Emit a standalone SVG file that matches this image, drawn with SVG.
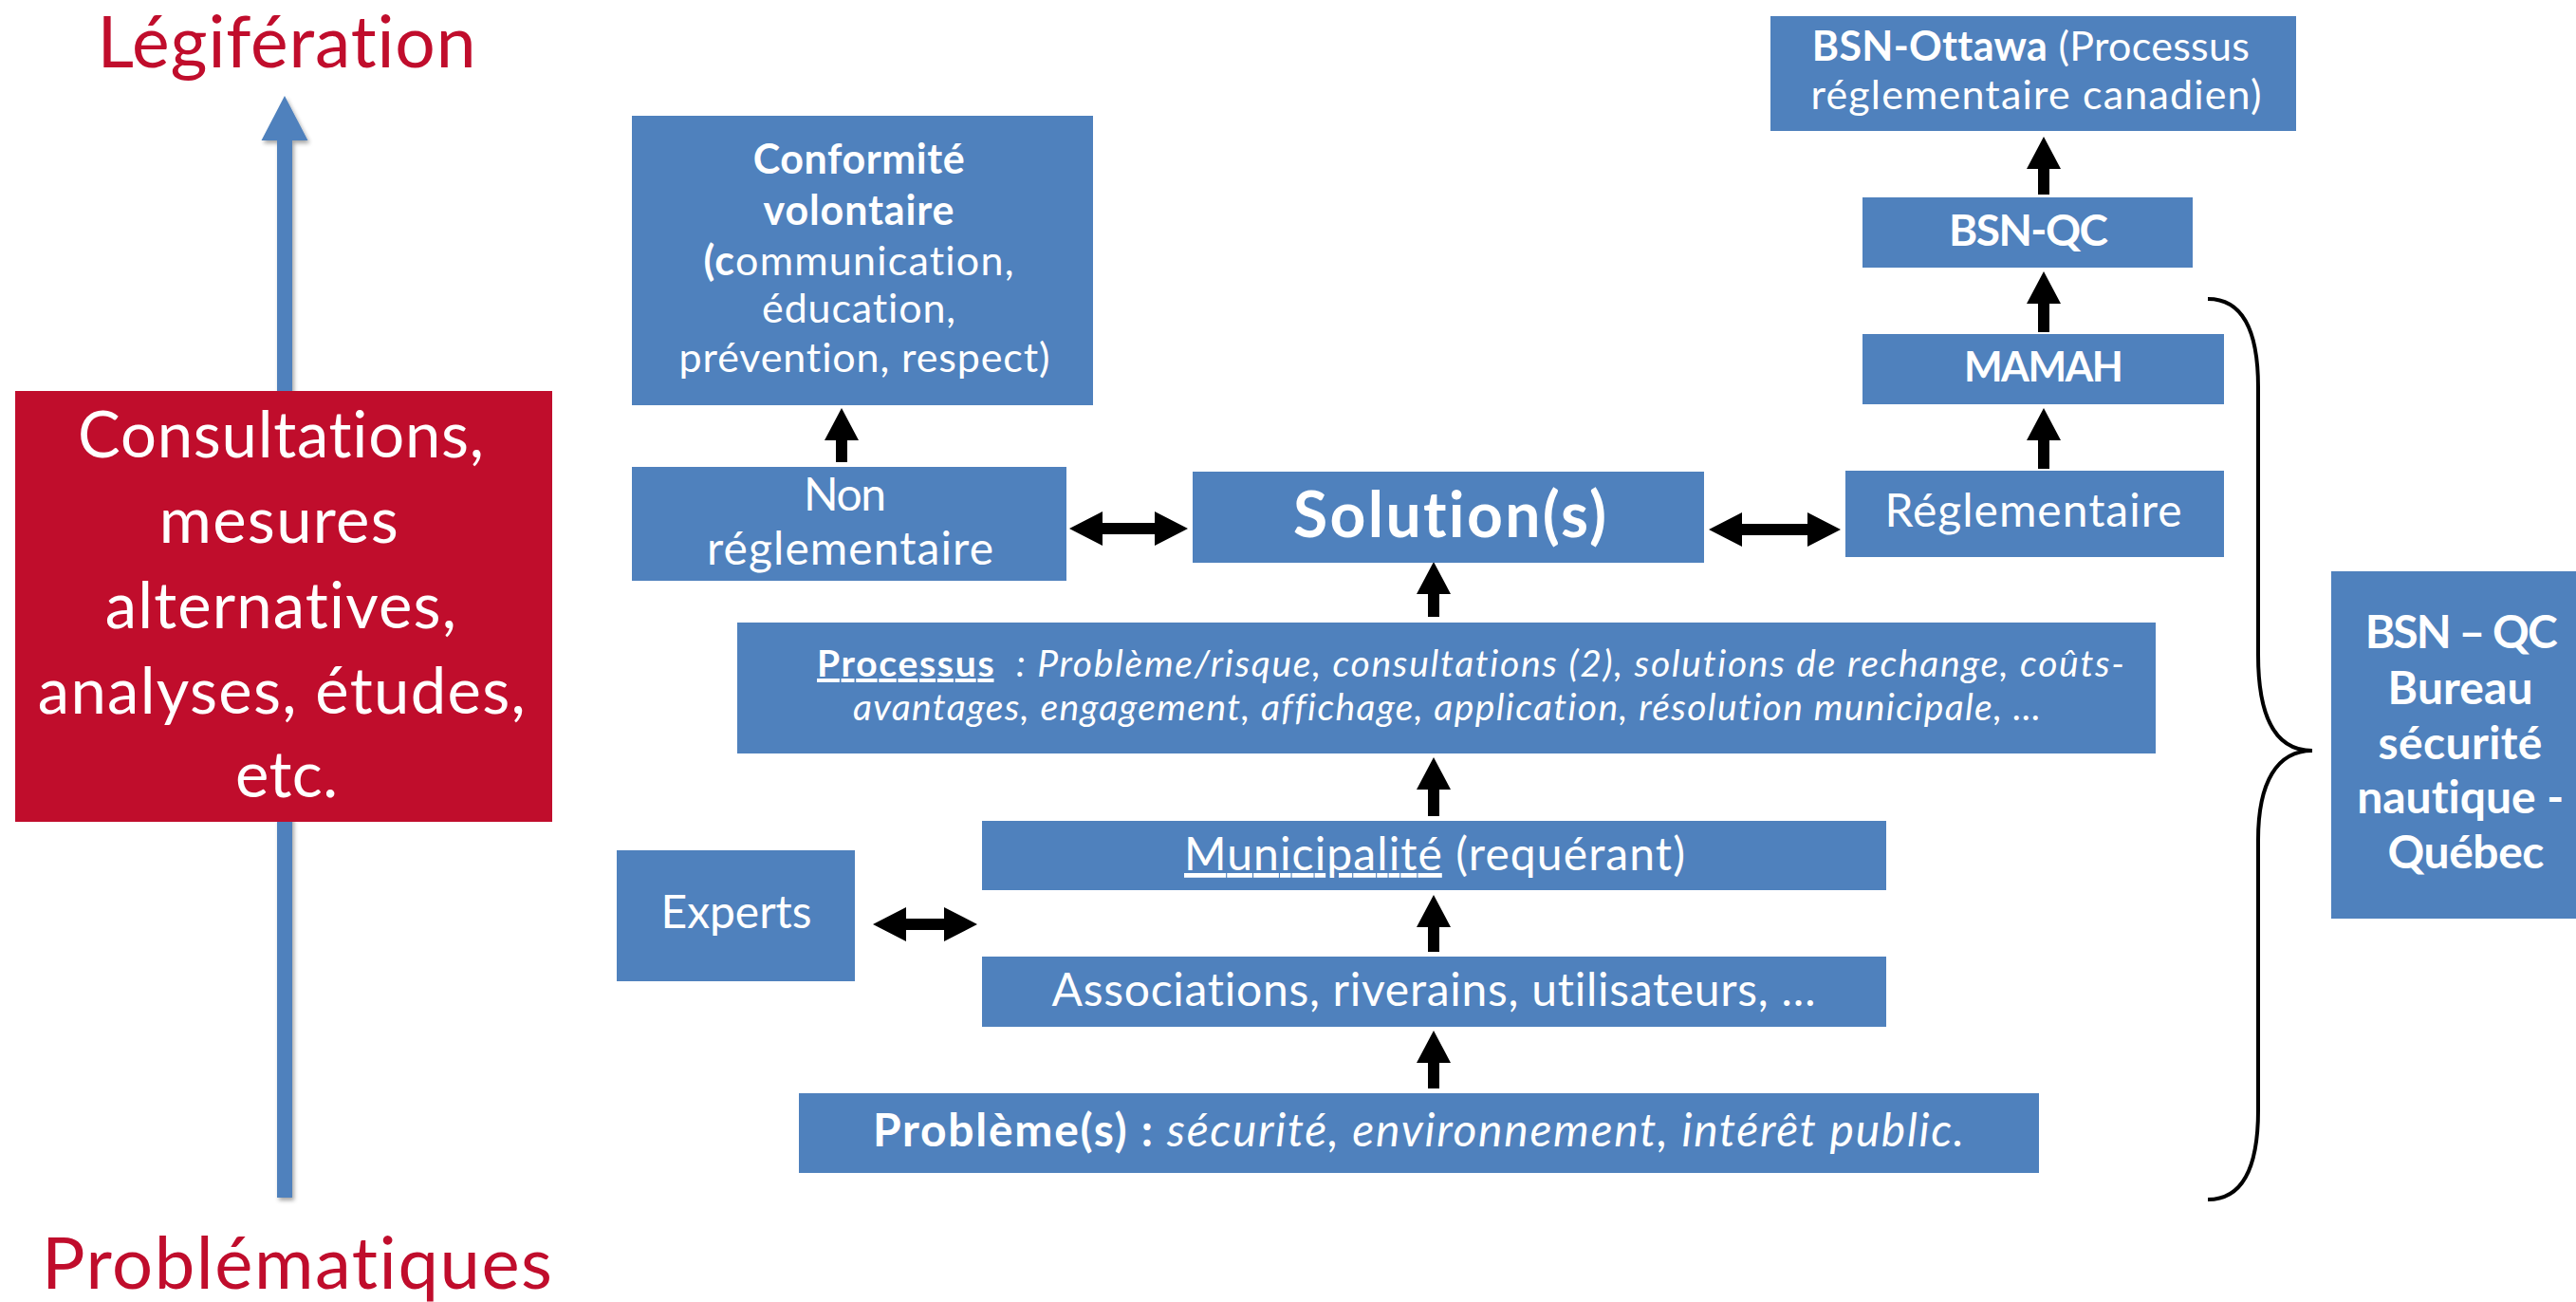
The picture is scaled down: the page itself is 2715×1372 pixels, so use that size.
<svg xmlns="http://www.w3.org/2000/svg" width="2715" height="1372" viewBox="0 0 2715 1372">
<defs>
<style>
.box{fill:#4F81BD;}
.red{fill:#C00D2C;}
.t{font-family:Lato,"Open Sans","Liberation Sans",sans-serif;fill:#FFFFFF;text-anchor:middle;font-variant-ligatures:none;font-feature-settings:"liga" 0,"clig" 0;}
.b{font-weight:bold;}
.i{font-style:italic;}
.rt{font-family:Lato,"Open Sans","Liberation Sans",sans-serif;fill:#C00D2C;text-anchor:middle;font-variant-ligatures:none;font-feature-settings:"liga" 0,"clig" 0;}
.arr{fill:#000000;}
.brace{fill:none;stroke:#000000;stroke-width:4;}
</style>
<filter id="sh" x="-50%" y="-5%" width="200%" height="110%">
<feDropShadow dx="2" dy="3" stdDeviation="2" flood-color="#000000" flood-opacity="0.35"/>
</filter>
</defs>
<rect width="2715" height="1372" fill="#FFFFFF"/>

<g id="axis">
<polygon points="300,101 324.5,148 308,148 308,1262 292,1262 292,148 275.5,148" fill="#4F81BD" filter="url(#sh)"/>
<text class="rt" x="302" y="71" font-size="75" textLength="399">Légifération</text>
<text class="rt" x="313" y="1358" font-size="76" textLength="538">Problématiques</text>
</g>

<g id="consultations">
<rect class="red" x="16" y="412" width="566" height="454"/>
<text class="t" font-size="67">
<tspan x="305" y="482" textLength="428">Consultations,</tspan>
<tspan x="303" y="572" textLength="252">mesures</tspan>
<tspan x="305" y="662" textLength="370">alternatives,</tspan>
<tspan x="306" y="752" textLength="514">analyses, études,</tspan>
<tspan x="302" y="840" textLength="108">etc.</tspan>
</text>
</g>

<g id="connectors">
<polygon class="arr" points="887,430 905,464 893,464 893,487 881,487 881,464 869,464"/>
<polygon class="arr" points="1511,592 1529,626 1517,626 1517,650 1505,650 1505,626 1493,626"/>
<polygon class="arr" points="1511,798 1529,832 1517,832 1517,860 1505,860 1505,832 1493,832"/>
<polygon class="arr" points="1511,943 1529,977 1517,977 1517,1003 1505,1003 1505,977 1493,977"/>
<polygon class="arr" points="1511,1086 1529,1120 1517,1120 1517,1147 1505,1147 1505,1120 1493,1120"/>
<polygon class="arr" points="2154,144 2172,178 2160,178 2160,205 2148,205 2148,178 2136,178"/>
<polygon class="arr" points="2154,286 2172,320 2160,320 2160,350 2148,350 2148,320 2136,320"/>
<polygon class="arr" points="2154,430 2172,464 2160,464 2160,494 2148,494 2148,464 2136,464"/>
<polygon class="arr" points="1127,557 1162,539 1162,551 1217,551 1217,539 1252,557 1217,575 1217,563 1162,563 1162,575"/>
<polygon class="arr" points="1801,558 1836,540 1836,552 1905,552 1905,540 1940,558 1905,576 1905,564 1836,564 1836,576"/>
<polygon class="arr" points="920,974 955,956 955,968 995,968 995,956 1030,974 995,992 995,980 955,980 955,992"/>
<path class="brace" d="M2327,315 C2362,315 2380,345 2380,408 L2380,690 C2380,758 2400,791 2437,791 C2400,791 2380,824 2380,885 L2380,1170 C2380,1234 2362,1264 2327,1264"/>
</g>

<g id="conformite">
<rect class="box" x="666" y="122" width="486" height="305"/>
<text class="t" font-size="43">
<tspan class="b" x="911" y="183" textLength="223">Conformité</tspan>
<tspan class="b" x="911" y="237" textLength="201">volontaire</tspan>
<tspan x="911" y="290" textLength="327"><tspan class="b">(c</tspan>ommunication,</tspan>
<tspan x="911" y="340" textLength="204">éducation,</tspan>
<tspan x="911" y="392" textLength="391">prévention, respect)</tspan>
</text>
</g>

<g id="non-reglementaire">
<rect class="box" x="666" y="492" width="458" height="120"/>
<text class="t" font-size="48">
<tspan x="896" y="538" textLength="87">Non</tspan>
<tspan x="896" y="595" textLength="302">réglementaire</tspan>
</text>
</g>

<g id="solutions">
<rect class="box" x="1257" y="497" width="539" height="96"/>
<text class="t b" x="1528" y="566" font-size="66" textLength="330">Solution(s)</text>
</g>

<g id="reglementaire">
<rect class="box" x="1945" y="496" width="399" height="91"/>
<text class="t" x="2143" y="555" font-size="48" textLength="313">Réglementaire</text>
</g>

<g id="mamah">
<rect class="box" x="1963" y="352" width="381" height="74"/>
<text class="t b" x="2154" y="402" font-size="43" textLength="168">MAMAH</text>
</g>

<g id="bsn-qc">
<rect class="box" x="1963" y="208" width="348" height="74"/>
<text class="t b" x="2138" y="259" font-size="46" textLength="168">BSN-QC</text>
</g>

<g id="bsn-ottawa">
<rect class="box" x="1866" y="17" width="554" height="121"/>
<text class="t" font-size="43">
<tspan x="2146" y="64" textLength="461"><tspan class="b">BSN-Ottawa</tspan> (Processus</tspan>
<tspan x="2146" y="115" textLength="475">réglementaire canadien)</tspan>
</text>
</g>

<g id="processus">
<rect class="box" x="777" y="656" width="1495" height="138"/>
<text class="t" font-size="39" style="text-anchor:start" x="861" y="713" textLength="1378"><tspan class="b" text-decoration="underline">Processus</tspan><tspan class="i">&#160; : Problème/risque, consultations (2), solutions de rechange, coûts-</tspan></text>
<text class="t i" font-size="39" x="1525" y="759" textLength="1252">avantages, engagement, affichage, application, résolution municipale, …</text>
</g>

<g id="municipalite">
<rect class="box" x="1035" y="865" width="953" height="73"/>
<text class="t" x="1512" y="917" font-size="48" textLength="528"><tspan text-decoration="underline">Municipalité</tspan> (requérant)</text>
</g>

<g id="associations">
<rect class="box" x="1035" y="1008" width="953" height="74"/>
<text class="t" x="1511" y="1060" font-size="48" textLength="805">Associations, riverains, utilisateurs, …</text>
</g>

<g id="probleme">
<rect class="box" x="842" y="1152" width="1307" height="84"/>
<text class="t" x="1495" y="1208" font-size="48" textLength="1150"><tspan class="b">Problème(s) :</tspan><tspan class="i"> sécurité, environnement, intérêt public.</tspan></text>
</g>

<g id="experts">
<rect class="box" x="650" y="896" width="251" height="138"/>
<text class="t" x="776" y="978" font-size="48" textLength="159">Experts</text>
</g>

<g id="bsn-qc-bureau">
<rect class="box" x="2457" y="602" width="270" height="366"/>
<text class="t b" font-size="48">
<tspan x="2599" y="683" textLength="203">BSN – QC</tspan>
<tspan x="2599" y="742" textLength="153">Bureau</tspan>
<tspan x="2599" y="800" textLength="173">sécurité</tspan>
<tspan x="2599" y="857" textLength="218">nautique -</tspan>
<tspan x="2599" y="915" textLength="165">Québec</tspan>
</text>
</g>
</svg>
